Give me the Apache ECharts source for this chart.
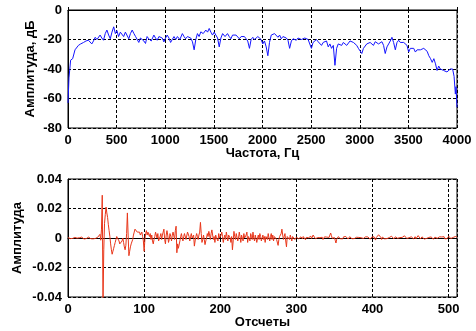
<!DOCTYPE html>
<html><head><meta charset="utf-8">
<script src="https://cdn.jsdelivr.net/npm/echarts@6/dist/echarts.min.js"></script>
<style>html,body{margin:0;padding:0;background:#fff}#c{width:476px;height:331px}</style>
</head><body><div id="c"></div>
<script>
// Top plot: spectrum (Hz, dB)
const freqs = [
 0,10,27,48,72,107,130,160,185,210,228,245,262,280,298,
 330,348,365,383,400,418,435,452,470,487,503,520,538,555,572,590,608,625,642,
 660,678,695,712,728,745,762,780,797,813,830,856,883,900,917,935,952,969,986,1003,
 1020,1038,1055,1072,1090,1108,1125,1150,1176,1193,1210,1228,1245,1262,1280,1297,1314,1331,1348,
 1366,1390,1417,1435,1452,1469,1486,1503,1520,1538,1555,1572,1590,1615,1640,1658,1675,1692,1710,
 1728,1745,1762,1780,1797,1814,1831,1848,1866,1883,1900,1918,1935,1952,1969,1986,2003,2020,2038,
 2055,2072,2090,2107,2124,2141,2159,2176,2193,2210,2228,2245,2262,2279,2297,2314,2331,2348,2365,
 2383,2400,2417,2435,2452,2469,2486,2503,2520,2538,2555,2572,2590,2607,2624,2641,2658,2676,2693,
 2710,2728,2745,2762,2779,2797,2814,2831,2848,2866,2883,2900,2917,2935,2952,2969,2986,3003,3021,3038,
 3055,3072,3090,3107,3124,3141,3159,3176,3193,3210,3228,3245,3262,3280,3297,3314,3331,3348,3366,3383,
 3400,3417,3434,3452,3469,3486,3503,3520,3538,3555,3572,3590,3607,3624,3641,3658,3676,3693,3710,3728,
 3745,3762,3779,3795,3812,3828,3845,3862,3880,3897,3914,3931,3955,3970,3983,3990,4000];
const amps = [
 -63,-46,-34,-33,-27,-24,-23,-22,-21,-20.5,-21.5,-23,-21,-18.5,-20,
 -17,-19,-20.5,-16,-13.6,-17,-19.5,-15,-11.4,-16,-14,-18,-15,-16,-18,-15,-14,-19.5,-16,
 -13.6,-16,-18,-17,-22,-19,-18,-21,-22.7,-18,-19.5,-21,-17,-19,-20.5,-18,-17,-19,-21.6,-19,
 -17,-19,-22,-20,-18,-20,-18,-20,-16,-18,-19.5,-18,-17,-19,-21.6,-27,-20,-16,-18,
 -14.8,-16,-13.6,-15,-12.5,-15,-17,-15,-16,-19,-25,-19,-16,-18,-16,-18,-19.5,-17,-16,
 -17,-18,-19.5,-18,-17,-18,-19.5,-21,-26,-20,-18.5,-20,-19.5,-18,-18.5,-20,-23,-21,-25,
 -31,-22,-17,-18,-16,-17,-18.5,-17,-19.5,-18,-18.5,-19,-20.5,-26,-21,-19.5,-19,-20.5,-19,
 -18.5,-20,-20.5,-19,-18.5,-20,-19.5,-26,-22,-21.5,-20,-21.5,-22,-24,-22,-23,-21,-25,-23,
 -26,-24,-37.5,-26,-23,-22,-24,-22,-21.5,-24,-23,-21,-21.5,-22,-23,-24,-26,-25,-29.5,-26,
 -25,-23,-24,-22,-23,-24,-21.5,-22,-23,-22,-21.5,-24,-29.5,-25,-23,-21,-18.5,-22,-27,-22,
 -20.5,-22,-23,-22,-21.5,-24,-28.5,-26,-27,-26,-28.5,-27,-26,-27,-27,-26,-27,-28,-31,-33,
 -35.5,-33,-36.5,-41,-38,-40,-39,-41,-40,-42,-41,-40,-40,-45,-57,-52,-66];
// Bottom plot: samples (amplitude in units of 0.001), index = sample number
const samplesMilli = [
 0.3,-0.2,0.5,-0.4,0.1,0.6,-0.3,-0.8,0.2,0.4,
 -0.5,0.3,-0.1,0.5,-0.6,0.2,0.4,-0.3,0.6,-0.2,
 0.1,-0.7,0.3,0.5,-0.4,0.2,-0.3,0.6,-0.1,0.4,
 -0.5,0.2,0.3,-0.6,0.4,0.1,-0.3,0.7,-0.2,0.5,
 1.2,-0.8,2.5,-1.5,6,29,-45,-8,10,16,
 21,17,14,9,5,1,-4,-8,-11,-9,
 -7,-5,-3,-1,1,2,0,-2,-4,-3,
 -4,-2,0,-3,-6,-8,-5,3,17,2,
 -12,-9,-6,-4,-3,-1,2,4,6,7,
 6,4,5,3,4,2,3,4,1,-2,
 -9,-1,3,5,2,4,3,1,3,-1,
 2,-2,-4,-1,1,4,2,0,3,-2,
 -3,1,3,-1,2,4,6,-1,-4,2,
 5,2,-3,-1,3,1,-2,2,4,3,
 -1,5,8,-10,-4,-7,-8,-2,1,3,
 0,-2,1,3,2,-1,0,4,4.5,1,
 -2,1,3,0,-1,2,-5.5,-2,1,3,
 1,-1,2,4,10.6,3,-3,-1,2,-1,
 -4.5,-2,0,3,1,4.5,2,-1,3,5.5,
 2,-1,1,-3,2,0,1,-2,3,0,
 -1,2,4,1,-3,0,2,-1,4,1,
 -2,2,3,0,-3,1,-8,-2,4.5,1,
 -1,3,2,-2,0,4,1,-3,2,1,
 -2,3,0,-1,2,4,-3,1,2,-2,
 3,1,-1,4,0,-2,2,1,-3,0,
 2,-1,3,1,-2,0,2,-1,1,-3,
 1,2,-1,3,0,-2,1,3,-1,2,
 -2,1,0,2,-1,-2,-5,-1,1,2,
 3,6,2,-1,1,3,-2,-6,1,2,
 0,-1,2,1,-2,1,0,1,-1,0,
 0.5,-0.8,1.2,-0.5,0.3,-1,0.8,0.2,-0.6,1,
 -0.3,0.6,-1.2,0.4,0.9,-0.4,0.2,-0.7,0.5,1.2,
 -0.3,0.8,2,3,1.2,-0.5,0.6,-0.9,0.3,0.7,
 -0.6,0.2,0.9,-0.4,0.5,-1,0.3,0.8,-0.5,0.2,
 0.6,-0.3,1.1,0.4,1.5,3.4,1.8,-0.2,0.6,-0.8,
 0.3,-1.5,-3.4,-0.8,0.4,0.9,-0.3,0.6,-0.5,0.7,
 0.2,-0.6,0.8,0.3,-0.4,1,-0.2,0.5,-0.7,0.4,
 0.9,-0.3,0.6,-0.5,0.2,0.8,-0.4,0.3,-0.6,0.5,
 1,-0.2,0.4,-0.7,0.6,0.2,-0.5,0.9,-0.3,0.4,
 -0.6,0.8,0.1,-0.4,0.7,-0.2,0.5,-0.8,0.3,0.6,
 -0.4,0.2,0.8,-0.5,-1.4,0.3,0.6,1.5,2.2,3.4,
 2,0.4,-1,0.6,-0.3,0.8,-0.6,0.2,0.7,-0.4,
 0.5,-0.8,0.3,0.9,-0.2,1.2,2.5,0.4,-0.6,0.3,
 0.8,-0.4,0.6,-0.2,0.5,-0.7,0.3,0.9,-0.3,0.4,
 -0.6,0.7,1.5,2.2,1,-0.3,0.5,-0.8,0.2,0.6,
 -0.4,0.8,-0.2,0.5,-0.6,0.3,0.9,-0.5,0.2,0.7,
 1.6,2,0.4,-0.6,0.3,0.8,-0.4,0.5,-0.7,0.2,
 0.6,-0.3,0.9,-0.5,0.4,0.1,-0.6,0.7,-0.2,0.5,
 -0.8,0.3,0.6,-0.4,1,-0.2,0.4,-0.6,0.8,0.2,
 -0.5,0.7,-0.3,0.4,0.9,-0.6,0.3,0.5,-0.4,0.6,
 1.2,2,0.8,-0.3,0.5,-0.6,0.4,0.9,1.5,1,0.8,0.5];
const topYTicks = [-80,-60,-40,-20,0];
const topXTicks = [0,500,1000,1500,2000,2500,3000,3500,4000];
const botYTicks = [-0.04,-0.02,0,0.02,0.04];
const botXTicks = [0,100,200,300,400,500];
const topXName = 'Частота, Гц', topYName = 'Амплитуда, дБ';
const botXName = 'Отсчеты', botYName = 'Амплитуда';

const FONT = 'Liberation Sans, Arial, sans-serif';
const lbl = {color:'#000', fontFamily:FONT, fontSize:13, fontWeight:'bold'};
const split = {show:true, lineStyle:{color:'#000', type:[3,2], width:1}};
const tick = {show:true, inside:true, length:3, lineStyle:{color:'#000'}};
function xAx(gi, min, max, step, name, gap, showMax){
  return {type:'value', gridIndex:gi, min, max, interval:step, name, nameLocation:'middle', nameGap:gap,
    nameMoveOverlap:false,
    nameTextStyle:lbl, axisLine:{show:true, lineStyle:{color:'#000'}}, axisTick:tick,
    axisLabel:Object.assign({margin:6, showMaxLabel:showMax, formatter:v=>String(v)}, lbl), splitLine:split};
}
function yAx(gi, min, max, step, name, gap, fmt){
  return {type:'value', gridIndex:gi, min, max, interval:step, name, nameLocation:'middle', nameGap:gap,
    nameMoveOverlap:false,
    nameTextStyle:lbl, axisLine:{show:true, lineStyle:{color:'#000'}}, axisTick:tick,
    axisLabel:Object.assign({margin:6, formatter:fmt}, lbl), splitLine:split};
}
const topData = freqs.map((f,i)=>[f, amps[i]]);
const botData = samplesMilli.map((v,i)=>[i, v/1000]);
const chart = echarts.init(document.getElementById('c'), null, {renderer:'canvas'});
chart.setOption({
  animation:false, backgroundColor:'#fff',
  grid:[
    {left:68, top:10, width:389, height:118, show:true, borderColor:'#000', borderWidth:1, backgroundColor:'#fff'},
    {left:68, top:179, width:389, height:118, show:true, borderColor:'#000', borderWidth:1, backgroundColor:'#fff'}
  ],
  xAxis:[
    xAx(0, topXTicks[0], topXTicks[topXTicks.length-1], 500, topXName, 19, true),
    xAx(1, botXTicks[0], 511, 100, botXName, 19, false)
  ],
  yAxis:[
    yAx(0, topYTicks[0], topYTicks[topYTicks.length-1], 20, topYName, 31, v=>String(v)),
    yAx(1, botYTicks[0], botYTicks[botYTicks.length-1], 0.02, botYName, 44, v=>String(+v.toFixed(2)))
  ],
  series:[
    {type:'line', xAxisIndex:0, yAxisIndex:0, data:topData, showSymbol:false, clip:true,
     lineStyle:{color:'#1414ff', width:1}},
    {type:'line', xAxisIndex:1, yAxisIndex:1, data:botData, showSymbol:false, clip:true,
     lineStyle:{color:'#e8361a', width:1}}
  ]
});
</script></body></html>
